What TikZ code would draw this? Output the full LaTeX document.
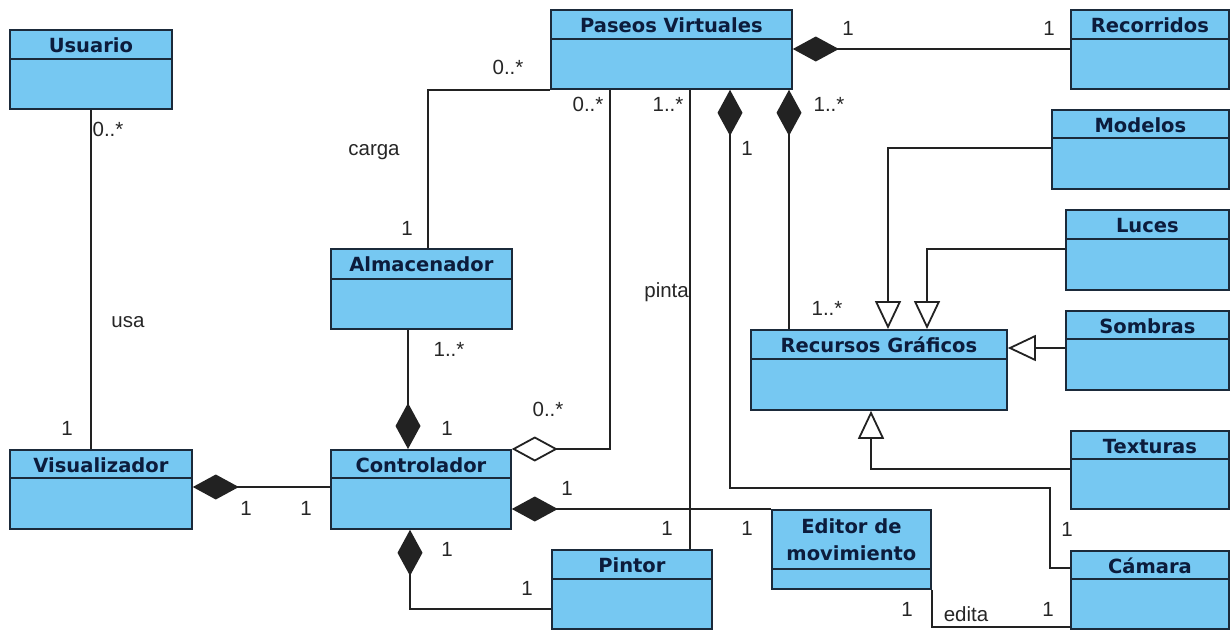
\documentclass[tikz,border=0pt]{standalone}
\usepackage{fontspec}
\setmainfont{Liberation Sans}
\newfontfamily\fuentetitulo{DejaVu Sans}
\usetikzlibrary{arrows.meta,positioning,calc}
\definecolor{azulclase}{HTML}{76C8F2}
\definecolor{borde}{HTML}{1B2A3A}
\definecolor{textoclase}{HTML}{0C1C3C}
\definecolor{linea}{HTML}{222222}

\begin{document}
\begin{tikzpicture}[x=1pt,y=-1pt,
  clase/.style={draw=borde,fill=azulclase,line width=1.8pt,anchor=north west,inner sep=0pt},
  titulo/.style={anchor=base,align=center,inner sep=0pt,text=textoclase,font=\fuentetitulo\bfseries\fontsize{19.5}{27}\selectfont},
  rel/.style={draw=linea,line width=1.8pt},
  compo/.style={rel,-{Diamond[length=46pt,width=25pt]}},
  agreg/.style={rel,-{Diamond[open,length=46pt,width=25pt]}},
  hereda/.style={rel,-{Triangle[open,length=28pt,width=26pt]}},
  etq/.style={inner sep=0pt,text height=15pt,text depth=0pt,text=black!85,font=\fontsize{20.5}{24}\selectfont}]
  \fill[white] (0,0) rectangle (1231,629);
  \useasboundingbox (0,0) rectangle (1231,629);
  % clases
  \foreach \n/\x/\y/\w/\h/\cab/\b/\t in {
      usuario/9/29/162/79/30/23/Usuario,
      paseos/550/9/241/79/30/23/Paseos Virtuales,
      recorridos/1070/9/158/79/30/23/Recorridos,
      modelos/1051/109/177/79/29/23/Modelos,
      luces/1065/209/163/80/30/23/Luces,
      sombras/1065/310/163/79/29/23/Sombras,
      recursos/750/329/256/80/30/23/Recursos Gráficos,
      texturas/1070/430/158/78/29/23/Texturas,
      camara/1070/550/158/78/29/23/Cámara,
      editor/771/509/159/79/60/51/{Editor de\\movimiento},
      pintor/551/549/160/79/30/23/Pintor,
      controlador/330/449/180/79/29/23/Controlador,
      visualizador/9/449/182/79/29/23/Visualizador,
      almacenador/330/248/181/80/31/23/Almacenador}{
    \node[clase,minimum width=\w pt,minimum height=\h pt] (\n) at (\x,\y) {};
    \draw[draw=borde,line width=1.8pt] ($(\n.north west)+(0,\cab)$) -- ($(\n.north east)+(0,\cab)$);
    \node[titulo] (\n-t) at ($(\n.north)+(0,\b)$) {\t};
  }
  % relaciones
  \draw[rel] (usuario.south) -- (usuario.south |- visualizador.north);
  \draw[compo] (controlador.west |- 0,487) -- (visualizador.east |- 0,487);
  \draw[compo] (almacenador.south -| 408,0) -- (controlador.north -| 408,0);
  \draw[rel] (almacenador.north -| 428,0) |- (paseos.south west);
  \draw[agreg] (paseos.south -| 610,0) |- (controlador.north east);
  \draw[rel] (pintor.north -| 690,0) -- (paseos.south -| 690,0);
  \draw[compo] (editor.north west) -- (controlador.east |- editor.north west);
  \draw[compo] (pintor.west |- 0,609) -| (controlador.south -| 410,0);
  \draw[compo] (recorridos.west |- 0,49) -- (paseos.east |- 0,49);
  \draw[compo] (recursos.north -| 789,0) -- (paseos.south -| 789,0);
  \draw[compo] (camara.west |- 0,568) -| (1050,488) -| (paseos.south -| 730,0);
  \draw[hereda] (modelos.west |- 0,148) -| (recursos.north -| 888,0);
  \draw[hereda] (luces.west |- 0,249) -| (recursos.north -| 927,0);
  \draw[hereda] (sombras.west |- 0,348) -- (recursos.east |- 0,348);
  \draw[hereda] (texturas.west |- 0,469) -| (recursos.south -| 871,0);
  \draw[rel] (editor.south east) |- (camara.west |- 0,627);
  % multiplicidades y nombres
  \foreach \x/\y/\t [count=\i] in {
      108/129/0..*, 67/428/1, 128/320/usa, 246/508/1, 306/508/1,
      407/228/1, 374/148/carga, 449/349/1..*, 447/428/1, 548/409/0..*,
      508/67/0..*, 588/104/0..*, 668/104/1..*, 747/148/1, 829/104/1..*,
      848/28/1, 1049/28/1, 827/308/1..*, 567/488/1, 667/528/1,
      747/528/1, 447/549/1, 527/588/1, 1067/529/1, 907/609/1,
      966/614/edita, 1048/609/1}
    \node[etq] (e\i) at (\x,\y) {\t};
  \node[etq,anchor=east] (pinta) at (689,290) {pinta};
\end{tikzpicture}
\end{document}
